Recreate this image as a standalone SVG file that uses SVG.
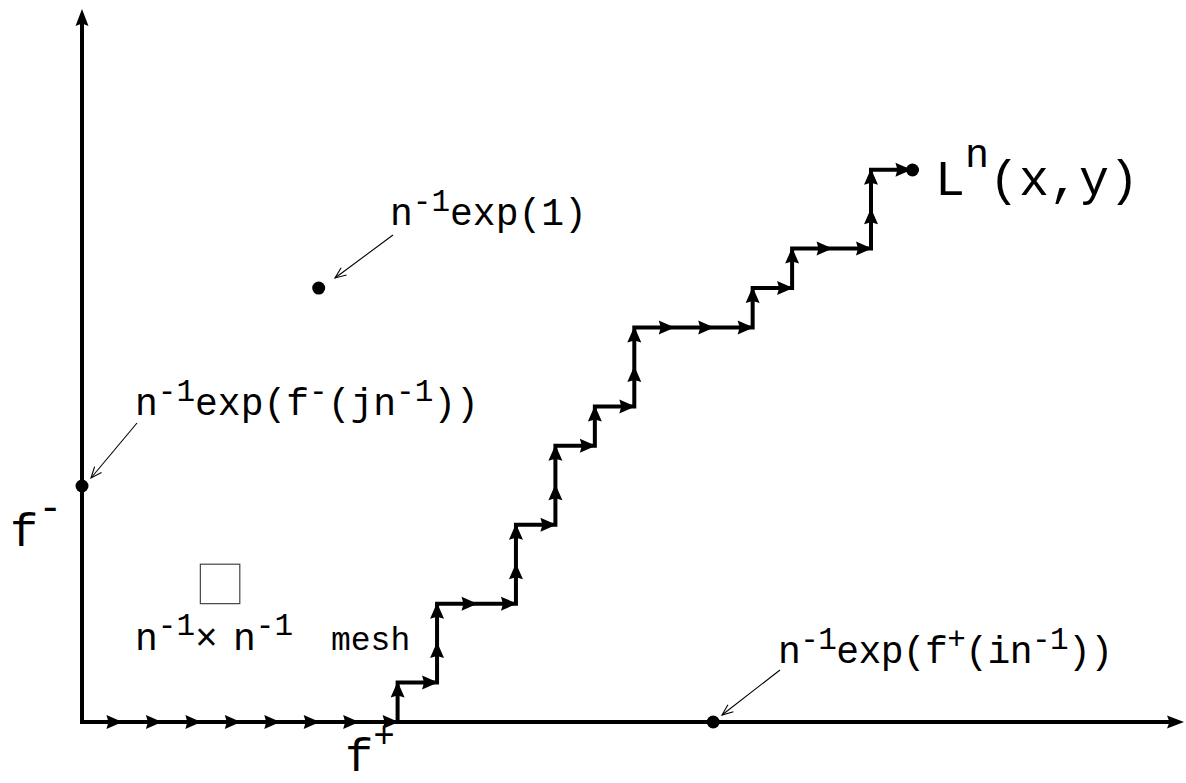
<svg xmlns="http://www.w3.org/2000/svg" xmlns:xlink="http://www.w3.org/1999/xlink" width="1186" height="783" viewBox="0 0 1186 783">
<style>
.ax{stroke:#000;stroke-width:4;fill:none}
.path{stroke:#000;stroke-width:4;fill:none;stroke-linejoin:miter}
.ld{stroke:#000;stroke-width:1.1;fill:none;marker-end:url(#la)}
.t{font-family:"Liberation Mono","Courier New",monospace;font-size:38px;fill:#000}
.s{font-size:31px}
.big{font-family:"Liberation Mono","Courier New",monospace;font-size:50px;fill:#000}
.f{font-family:"Liberation Mono","Courier New",monospace;font-size:47px;fill:#000}
</style>
<defs>
<path id="ah" d="M1,0 L-15,-7 L-13,0 L-15,7 Z" fill="#000"/>
<path id="axh" d="M0,0 L-17,-6.5 L-14.5,0 L-17,6.5 Z" fill="#000"/>
<marker id="la" markerUnits="userSpaceOnUse" markerWidth="14" markerHeight="12" refX="12" refY="6" orient="auto" viewBox="0 0 14 12"><path d="M1,1.5 L12,6 L1,10.5" fill="none" stroke="#000" stroke-width="1.1"/></marker>
</defs>
<rect width="1186" height="783" fill="#fff"/>
<g id="axes">
<line class="ax" x1="82" y1="724" x2="82" y2="20"/>
<use xlink:href="#axh" href="#axh" transform="translate(82,9) rotate(-90)"/>
<line class="ax" x1="80" y1="722" x2="1172" y2="722"/>
<use xlink:href="#axh" href="#axh" transform="translate(1184,722)"/>
</g>
<g id="connectors">
<polyline class="path" points="82,722 397.6,722 397.6,682.55 437.05,682.55 437.05,603.65 515.95,603.65 515.95,524.75 555.4,524.75 555.4,445.85 594.85,445.85 594.85,406.4 634.3,406.4 634.3,327.5 752.65,327.5 752.65,288.05 792.1,288.05 792.1,248.6 871,248.6 871,169.7 910.45,169.7"/>
<g id="arrowheads">
<use href="#ah" transform="translate(121.45,722)"/>
<use href="#ah" transform="translate(160.9,722)"/>
<use href="#ah" transform="translate(200.35,722)"/>
<use href="#ah" transform="translate(239.8,722)"/>
<use href="#ah" transform="translate(279.25,722)"/>
<use href="#ah" transform="translate(318.7,722)"/>
<use href="#ah" transform="translate(358.15,722)"/>
<use href="#ah" transform="translate(397.6,722)"/>
<use href="#ah" transform="translate(397.6,682.55) rotate(-90)"/>
<use href="#ah" transform="translate(437.05,682.55)"/>
<use href="#ah" transform="translate(437.05,643.1) rotate(-90)"/>
<use href="#ah" transform="translate(437.05,603.65) rotate(-90)"/>
<use href="#ah" transform="translate(476.5,603.65)"/>
<use href="#ah" transform="translate(515.95,603.65)"/>
<use href="#ah" transform="translate(515.95,564.2) rotate(-90)"/>
<use href="#ah" transform="translate(515.95,524.75) rotate(-90)"/>
<use href="#ah" transform="translate(555.4,524.75)"/>
<use href="#ah" transform="translate(555.4,485.3) rotate(-90)"/>
<use href="#ah" transform="translate(555.4,445.85) rotate(-90)"/>
<use href="#ah" transform="translate(594.85,445.85)"/>
<use href="#ah" transform="translate(594.85,406.4) rotate(-90)"/>
<use href="#ah" transform="translate(634.3,406.4)"/>
<use href="#ah" transform="translate(634.3,366.95) rotate(-90)"/>
<use href="#ah" transform="translate(634.3,327.5) rotate(-90)"/>
<use href="#ah" transform="translate(673.75,327.5)"/>
<use href="#ah" transform="translate(713.2,327.5)"/>
<use href="#ah" transform="translate(752.65,327.5)"/>
<use href="#ah" transform="translate(752.65,288.05) rotate(-90)"/>
<use href="#ah" transform="translate(792.1,288.05)"/>
<use href="#ah" transform="translate(792.1,248.6) rotate(-90)"/>
<use href="#ah" transform="translate(831.55,248.6)"/>
<use href="#ah" transform="translate(871,248.6)"/>
<use href="#ah" transform="translate(871,209.15) rotate(-90)"/>
<use href="#ah" transform="translate(871,169.7) rotate(-90)"/>
<use href="#ah" transform="translate(910.45,169.7)"/>
</g>
<line class="ld" x1="393" y1="235" x2="335" y2="278"/>
<line class="ld" x1="137" y1="423" x2="91" y2="478"/>
<line class="ld" x1="780" y1="670" x2="722" y2="715"/>
</g>
<g id="points">
<circle cx="912.5" cy="170" r="6.5"/>
<circle cx="318.7" cy="288.05" r="6.5"/>
<circle cx="82" cy="486" r="6.5"/>
<circle cx="713.2" cy="722" r="6.5"/>
</g>
<g id="mesh">
<rect x="200.35" y="564.2" width="39.45" height="39.45" fill="none" stroke="#444" stroke-width="1.2"/>
<text class="t" x="135" y="650">n<tspan class="s" dy="-15">-1</tspan><tspan dy="15">×</tspan><tspan x="233">n</tspan><tspan class="s" dy="-15">-1</tspan><tspan x="331" dy="15" font-size="33">mesh</tspan></text>
</g>
<g id="label-exp1"><text class="t" x="390" y="225">n<tspan class="s" dy="-14">-1</tspan><tspan dy="14">exp(1)</tspan></text></g>
<g id="label-fminus-pt"><text class="t" x="135" y="415">n<tspan class="s" dy="-14">-1</tspan><tspan dy="14">exp(f</tspan><tspan class="s" dy="-14">-</tspan><tspan dy="14">(jn</tspan><tspan class="s" dy="-14">-1</tspan><tspan dy="14">))</tspan></text></g>
<g id="label-fplus-pt"><text class="t" x="778" y="663" letter-spacing="-0.6">n<tspan class="s" dy="-14">-1</tspan><tspan dy="14">exp(f</tspan><tspan class="s" dy="-14">+</tspan><tspan dy="14">(in</tspan><tspan class="s" dy="-14">-1</tspan><tspan dy="14">))</tspan></text></g>
<g id="label-L"><text class="big" x="935" y="195">L<tspan font-size="40" dy="-28">n</tspan><tspan dy="28">(x,y)</tspan></text></g>
<g id="label-fminus"><text class="f" x="10" y="546">f<tspan font-size="40" dy="-26">-</tspan></text></g>
<g id="label-fplus"><text class="f" x="345" y="771">f<tspan font-size="36" dy="-24">+</tspan></text></g>
</svg>
